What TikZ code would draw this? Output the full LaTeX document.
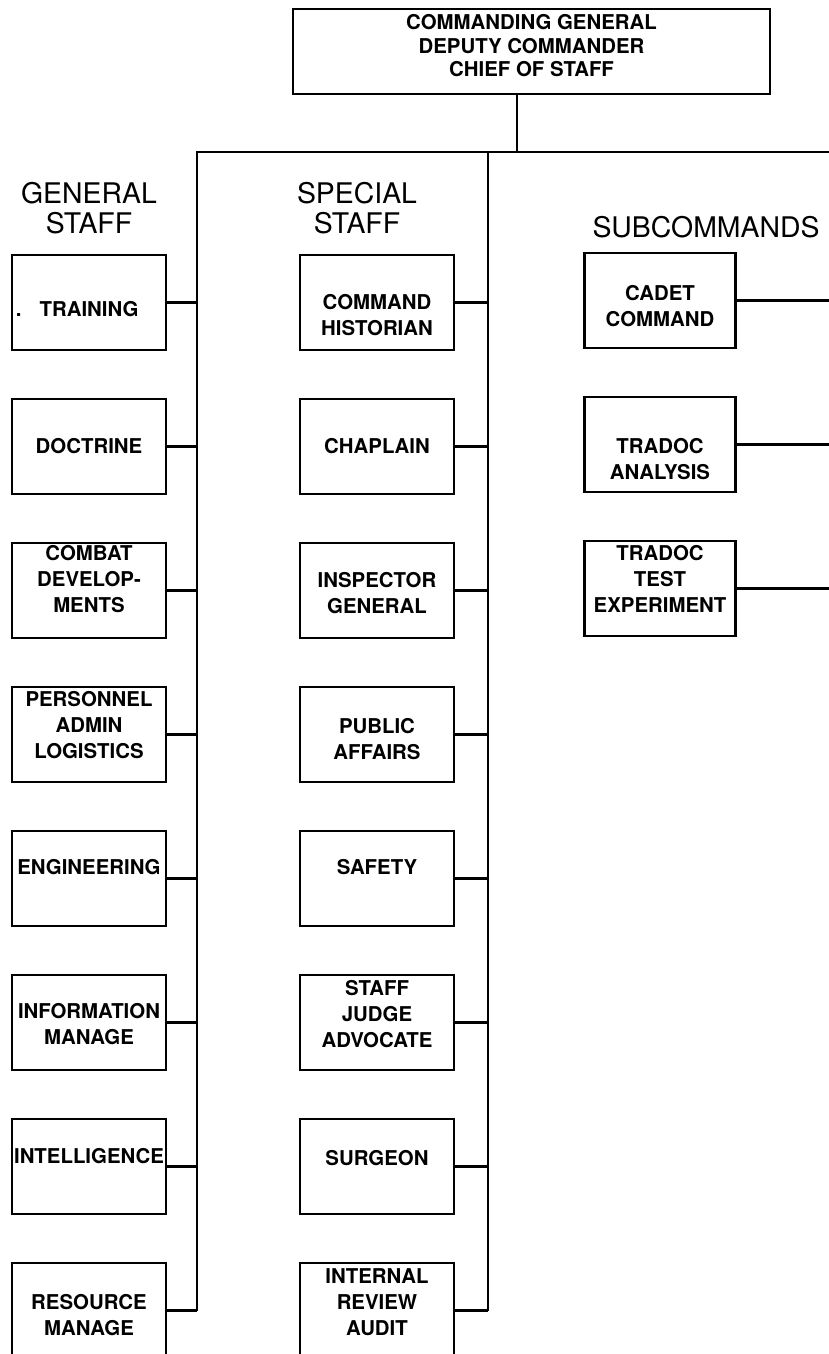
\documentclass[tikz,border=0pt]{standalone}
\usepackage{fontspec}
\setmainfont{TeX Gyre Heros}
\usepackage{tikz}
\usetikzlibrary{positioning}

\begin{document}
\begin{tikzpicture}[
  x=0.5pt, y=-0.5pt,
  node distance=24.5pt,
  unit/.style={rectangle, draw, line width=1.4pt, minimum width=77pt,
               minimum height=47.5pt, inner sep=0pt, outer sep=0pt,
               align=center, font=\fontsize{10.2}{13}\selectfont\bfseries},
  subunit/.style={unit, minimum width=75.5pt},
  head/.style={inner sep=0pt, align=center, font=\fontsize{14.2}{15}\selectfont},
  txtdown/.style={text height=#1, text depth=0pt},
  txtup/.style={text height=0pt, text depth=#1},
  link/.style={line width=1.1pt}
]
  \useasboundingbox (0,0) rectangle (829,1354);

  % command group
  \node[unit, minimum width=238.5pt, minimum height=42.5pt, txtdown=25.1pt,
        font=\fontsize{10.2}{11.7}\selectfont\bfseries] (cg) at (531.5,51.5)
       {COMMANDING GENERAL\\DEPUTY COMMANDER\\CHIEF OF STAFF};

  % column headings
  \node[head] (genhead) at (89,208) {GENERAL\\STAFF};
  \node[head] (spechead) at (357,208) {SPECIAL\\STAFF};
  \node[head] (subhead) at (706,227) {SUBCOMMANDS};

  % general staff
  \node[unit, txtdown=13.7pt] (train) at (89,302.5) {\llap{.\hspace{9pt}}TRAINING};
  \node[unit, below=of train] (doct) {DOCTRINE};
  \node[unit, txtdown=22.2pt, below=of doct] (combat) {COMBAT\\DEVELOP-\\MENTS};
  \node[unit, txtdown=24.2pt, below=of combat] (pers) {PERSONNEL\\ADMIN\\LOGISTICS};
  \node[unit, txtup=3.8pt, below=of pers] (engr) {ENGINEERING};
  \node[unit, txtdown=22.2pt, below=of engr] (info) {INFORMATION\\MANAGE};
  \node[unit, txtup=2.8pt, below=of info] (intel) {INTELLIGENCE};
  \node[unit, txtdown=25.2pt, below=of intel] (resmgt) {RESOURCE\\MANAGE};

  % special staff
  \node[unit, txtdown=33.2pt] (hist) at (377,302.5) {COMMAND\\HISTORIAN};
  \node[unit, below=of hist] (chap) {CHAPLAIN};
  \node[unit, txtdown=23.2pt, below=of chap] (ig) {INSPECTOR\\GENERAL};
  \node[unit, txtdown=25.2pt, below=of ig] (pao) {PUBLIC\\AFFAIRS};
  \node[unit, txtup=3.8pt, below=of pao] (safety) {SAFETY};
  \node[unit, txtdown=25.2pt, below=of safety] (sja) {STAFF\\JUDGE\\ADVOCATE};
  \node[unit, txtup=0.8pt, below=of sja] (surg) {SURGEON};
  \node[unit, txtdown=25.2pt, below=of surg] (irac) {INTERNAL\\REVIEW\\AUDIT};

  % subcommands
  \node[subunit, txtdown=26.2pt] (cadet) at (660,300.5) {CADET\\COMMAND};
  \node[subunit, txtdown=35.2pt, below=of cadet] (trac) {TRADOC\\ANALYSIS};
  \node[subunit, txtdown=24.2pt, below=of trac] (tec) {TRADOC\\TEST\\EXPERIMENT};

  % buses
  \coordinate (hub) at (517,152);
  \coordinate (genbus) at (197,152);
  \coordinate (specbus) at (488,152);
  \coordinate (subbus) at (829,152);
  \draw[link] (cg.south -| hub) -- (hub);
  \draw[link] (resmgt.east -| genbus) -- (genbus) -- (subbus);
  \draw[link] (specbus) -- (irac.east -| specbus);

  \draw[link] (train.east)  -- (train.east -| genbus);
  \draw[link] (doct.east)   -- (doct.east -| genbus);
  \draw[link] (combat.east) -- (combat.east -| genbus);
  \draw[link] (pers.east)   -- (pers.east -| genbus);
  \draw[link] (engr.east)   -- (engr.east -| genbus);
  \draw[link] (info.east)   -- (info.east -| genbus);
  \draw[link] (intel.east)  -- (intel.east -| genbus);
  \draw[link] (resmgt.east) -- (resmgt.east -| genbus);

  \draw[link] (hist.east)   -- (hist.east -| specbus);
  \draw[link] (chap.east)   -- (chap.east -| specbus);
  \draw[link] (ig.east)     -- (ig.east -| specbus);
  \draw[link] (pao.east)    -- (pao.east -| specbus);
  \draw[link] (safety.east) -- (safety.east -| specbus);
  \draw[link] (sja.east)    -- (sja.east -| specbus);
  \draw[link] (surg.east)   -- (surg.east -| specbus);
  \draw[link] (irac.east)   -- (irac.east -| specbus);

  \draw[link] (cadet.east)  -- (cadet.east -| subbus);
  \draw[link] (trac.east)   -- (trac.east -| subbus);
  \draw[link] (tec.east)    -- (tec.east -| subbus);
\end{tikzpicture}
\end{document}
